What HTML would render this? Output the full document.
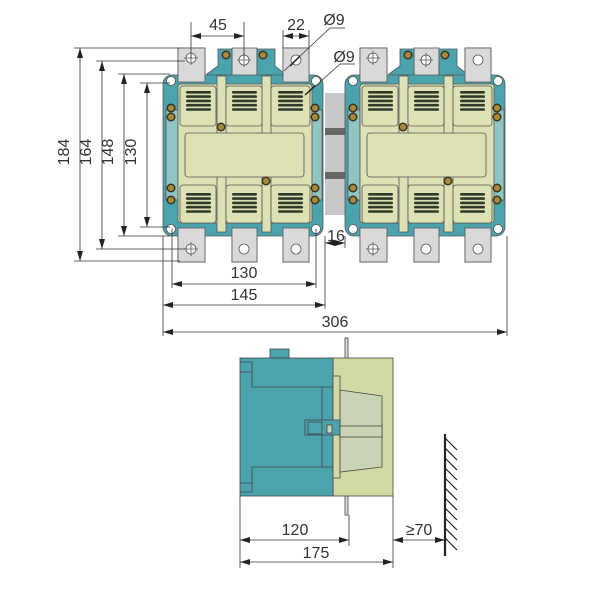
<!DOCTYPE html>
<html><head><meta charset="utf-8"><style>
html,body{margin:0;padding:0;background:#fff;width:600px;height:600px;overflow:hidden}
svg{display:block}
text{font-family:"Liberation Sans",sans-serif;font-size:16px;fill:#333}
</style></head><body>
<svg width="600" height="600" viewBox="0 0 600 600" xmlns="http://www.w3.org/2000/svg">
<defs>
<marker id="a" viewBox="0 0 10 6" refX="10" refY="3" markerWidth="10" markerHeight="6" orient="auto-start-reverse" markerUnits="userSpaceOnUse"><path d="M0,0L10,3L0,6z" fill="#222"/></marker>
<g id="grill">
<rect x="0" y="0" width="25" height="2.6" rx="1.3" fill="#2f3a2a"/>
<rect x="0" y="4.3" width="25" height="2.6" rx="1.3" fill="#2f3a2a"/>
<rect x="0" y="8.6" width="25" height="2.6" rx="1.3" fill="#2f3a2a"/>
<rect x="0" y="12.9" width="25" height="2.6" rx="1.3" fill="#2f3a2a"/>
<rect x="0" y="17.2" width="25" height="2.6" rx="1.3" fill="#2f3a2a"/>
</g>
<g id="scr"><circle r="4.5" fill="#3a3320"/><circle r="3" fill="#a88a3a"/></g>
<g id="unit" stroke="#555" stroke-width="0.8">
<rect x="178" y="48" width="27" height="40" fill="#d9d9d9"/>
<rect x="232" y="48" width="25" height="40" fill="#d9d9d9"/>
<rect x="283" y="48" width="26" height="40" fill="#d9d9d9"/>
<rect x="178" y="220" width="27" height="42" fill="#d9d9d9"/>
<rect x="232" y="220" width="25" height="42" fill="#d9d9d9"/>
<rect x="283" y="220" width="26" height="42" fill="#d9d9d9"/>
<path d="M218,49H232V76H257V49H275V66L285,74V84H207V74L218,66Z" fill="#4ba3ad"/>
<path d="M207,222H285V234H207Z" fill="#4ba3ad"/>
<rect x="163" y="75" width="160" height="161" rx="9" fill="#4ba3ad"/>
<rect x="166" y="110" width="12" height="90" fill="#8fc6c4"/>
<rect x="310" y="110" width="12" height="90" fill="#8fc6c4"/>
<rect x="178" y="48" width="27" height="34" fill="#d9d9d9"/>
<rect x="283" y="48" width="26" height="34" fill="#d9d9d9"/>
<rect x="178" y="228" width="27" height="34" fill="#d9d9d9"/>
<rect x="232" y="228" width="25" height="34" fill="#d9d9d9"/>
<rect x="283" y="228" width="26" height="34" fill="#d9d9d9"/>
<rect x="178" y="84" width="134" height="139" rx="3" fill="#dde1b3"/>
<rect x="217" y="76" width="9" height="156" fill="#dde1b3"/>
<rect x="262" y="76" width="9" height="156" fill="#dde1b3"/>
<rect x="180" y="86" width="36" height="40" rx="3" fill="#dde1b3"/>
<rect x="226" y="86" width="36" height="40" rx="3" fill="#dde1b3"/>
<rect x="271" y="86" width="39" height="40" rx="3" fill="#dde1b3"/>
<rect x="185" y="133" width="119" height="44" rx="3" fill="#dde1b3"/>
<rect x="180" y="185" width="36" height="38" rx="3" fill="#dde1b3"/>
<rect x="226" y="185" width="36" height="38" rx="3" fill="#dde1b3"/>
<rect x="271" y="185" width="39" height="38" rx="3" fill="#dde1b3"/>
</g>
<g id="unitdet">
<use href="#grill" x="186" y="91"/><use href="#grill" x="232" y="91"/><use href="#grill" x="278" y="91"/>
<use href="#grill" x="186" y="193"/><use href="#grill" x="232" y="193"/><use href="#grill" x="278" y="193"/>
<use href="#scr" x="221" y="127"/><use href="#scr" x="266" y="181"/>
<use href="#scr" x="171" y="108"/><use href="#scr" x="171" y="117"/>
<use href="#scr" x="171" y="188"/><use href="#scr" x="171" y="200"/>
<use href="#scr" x="315" y="108"/><use href="#scr" x="315" y="117"/>
<use href="#scr" x="315" y="188"/><use href="#scr" x="315" y="200"/>
<use href="#scr" x="226" y="55"/><use href="#scr" x="263" y="55"/>
<g fill="#fff" stroke="#555" stroke-width="0.8">
<circle cx="191" cy="58" r="5"/><circle cx="244" cy="60" r="5"/><circle cx="296" cy="60" r="5"/>
<circle cx="171" cy="81" r="4.5"/><circle cx="316" cy="81" r="4.5"/>
<circle cx="171" cy="229" r="4.5"/><circle cx="316" cy="229" r="4.5"/>
<circle cx="191" cy="249" r="5"/><circle cx="244" cy="249" r="5"/><circle cx="296" cy="249" r="5"/>
<path d="M184,58H198M191,51V65M237,60H251M244,53V67M184,249H198M191,242V256" fill="none"/>
</g>
</g>
</defs>

<rect x="325" y="93" width="20" height="122" fill="#c8c8c8"/>
<rect x="325" y="128" width="20" height="7" fill="#666"/>
<rect x="325" y="172" width="20" height="7" fill="#666"/>

<use href="#unit"/><use href="#unitdet"/>
<use href="#unit" x="182"/><use href="#unitdet" x="182"/>

<g stroke="#333" stroke-width="0.8" fill="none">
<line x1="74" y1="48" x2="180" y2="48"/>
<line x1="96" y1="61" x2="185" y2="61"/>
<line x1="118" y1="74" x2="170" y2="74"/>
<line x1="140" y1="83" x2="170" y2="83"/>
<line x1="140" y1="227" x2="170" y2="227"/>
<line x1="118" y1="236" x2="170" y2="236"/>
<line x1="96" y1="249" x2="185" y2="249"/>
<line x1="74" y1="261" x2="180" y2="261"/>
<line x1="80" y1="48" x2="80" y2="261" marker-start="url(#a)" marker-end="url(#a)"/>
<line x1="102" y1="61" x2="102" y2="249" marker-start="url(#a)" marker-end="url(#a)"/>
<line x1="124" y1="74" x2="124" y2="236" marker-start="url(#a)" marker-end="url(#a)"/>
<line x1="147" y1="83" x2="147" y2="227" marker-start="url(#a)" marker-end="url(#a)"/>
<line x1="191" y1="22" x2="191" y2="58"/><line x1="244" y1="22" x2="244" y2="58"/>
<line x1="191" y1="36" x2="244" y2="36" marker-start="url(#a)" marker-end="url(#a)"/>
<line x1="283" y1="30" x2="283" y2="48"/><line x1="309" y1="30" x2="309" y2="48"/>
<line x1="283" y1="36" x2="309" y2="36" marker-start="url(#a)" marker-end="url(#a)"/>
<line x1="284" y1="71" x2="330" y2="28"/><line x1="330" y1="28" x2="345" y2="28"/>
<line x1="310" y1="91" x2="340" y2="64"/><line x1="340" y1="64" x2="355" y2="64"/>
<line x1="172" y1="229" x2="172" y2="288"/><line x1="316" y1="229" x2="316" y2="288"/>
<line x1="172" y1="284" x2="316" y2="284" marker-start="url(#a)" marker-end="url(#a)"/>
<line x1="163" y1="236" x2="163" y2="336"/><line x1="325" y1="236" x2="325" y2="309"/>
<line x1="163" y1="305" x2="325" y2="305" marker-start="url(#a)" marker-end="url(#a)"/>
<line x1="507" y1="236" x2="507" y2="336"/>
<line x1="163" y1="332" x2="507" y2="332" marker-start="url(#a)" marker-end="url(#a)"/>
<line x1="345" y1="236" x2="345" y2="248"/>
<line x1="325" y1="243" x2="345" y2="243" marker-start="url(#a)" marker-end="url(#a)"/>
</g>
<g stroke="#222" stroke-width="1.5"><line x1="290" y1="66" x2="300" y2="56"/><line x1="305" y1="95" x2="315" y2="86"/></g>

<text x="69" y="152" text-anchor="middle" transform="rotate(-90 69 152)">184</text>
<text x="91" y="152" text-anchor="middle" transform="rotate(-90 91 152)">164</text>
<text x="113" y="152" text-anchor="middle" transform="rotate(-90 113 152)">148</text>
<text x="136" y="152" text-anchor="middle" transform="rotate(-90 136 152)">130</text>
<text x="218" y="30" text-anchor="middle">45</text>
<text x="296" y="30" text-anchor="middle">22</text>
<text x="334" y="25" text-anchor="middle">Ø9</text>
<text x="344" y="62" text-anchor="middle">Ø9</text>
<text x="336" y="241" text-anchor="middle">16</text>
<text x="244" y="278" text-anchor="middle">130</text>
<text x="244" y="300" text-anchor="middle">145</text>
<text x="335" y="327" text-anchor="middle">306</text>

<g stroke="#444" stroke-width="0.8">
<rect x="345" y="338" width="3" height="177" fill="#ddd"/>
<rect x="270" y="349" width="19" height="9" fill="#4ba3ad"/>
<rect x="333" y="358" width="60" height="138" fill="#d3d9a5"/>
<rect x="240" y="358" width="93" height="138" fill="#4ba3ad"/>
<path d="M240,362H252V387H333" fill="none"/>
<path d="M240,372H252" fill="none"/>
<path d="M240,492H252V467H333" fill="none"/>
<path d="M240,483H252" fill="none"/>
<path d="M322,387V467" fill="none"/>
<rect x="333" y="376" width="7" height="102" fill="#d3d9a5"/>
<path d="M340,390L382,396V467L340,472Z" fill="#c9d4b4"/>
<rect x="305" y="420" width="35" height="15" fill="#4ba3ad"/>
<rect x="308" y="422" width="14" height="12" fill="#4ba3ad"/>
<rect x="327" y="425" width="5" height="8" fill="#c9d4b4"/>
<rect x="340" y="426" width="42" height="11" fill="#c9d4b4"/>
</g>
<g stroke="#333" stroke-width="0.8" fill="none">
<line x1="240" y1="496" x2="240" y2="568"/>
<line x1="393" y1="496" x2="393" y2="568"/>
<line x1="349" y1="515" x2="349" y2="546"/>
<line x1="240" y1="540" x2="349" y2="540" marker-start="url(#a)" marker-end="url(#a)"/>
<line x1="240" y1="562" x2="393" y2="562" marker-start="url(#a)" marker-end="url(#a)"/>
<line x1="393" y1="540" x2="445" y2="540" marker-start="url(#a)" marker-end="url(#a)"/>
</g>
<line x1="445" y1="434" x2="445" y2="556" stroke="#222" stroke-width="2.2"/>
<g stroke="#222" stroke-width="1.2">
<line x1="445" y1="438" x2="457" y2="450"/><line x1="445" y1="448" x2="457" y2="460"/>
<line x1="445" y1="458" x2="457" y2="470"/><line x1="445" y1="468" x2="457" y2="480"/>
<line x1="445" y1="478" x2="457" y2="490"/><line x1="445" y1="488" x2="457" y2="500"/>
<line x1="445" y1="498" x2="457" y2="510"/><line x1="445" y1="508" x2="457" y2="520"/>
<line x1="445" y1="518" x2="457" y2="530"/><line x1="445" y1="528" x2="457" y2="540"/>
<line x1="445" y1="538" x2="457" y2="550"/>
</g>
<text x="295" y="535" text-anchor="middle">120</text>
<text x="316" y="558" text-anchor="middle">175</text>
<text x="419" y="535" text-anchor="middle">≥70</text>
</svg>
</body></html>
